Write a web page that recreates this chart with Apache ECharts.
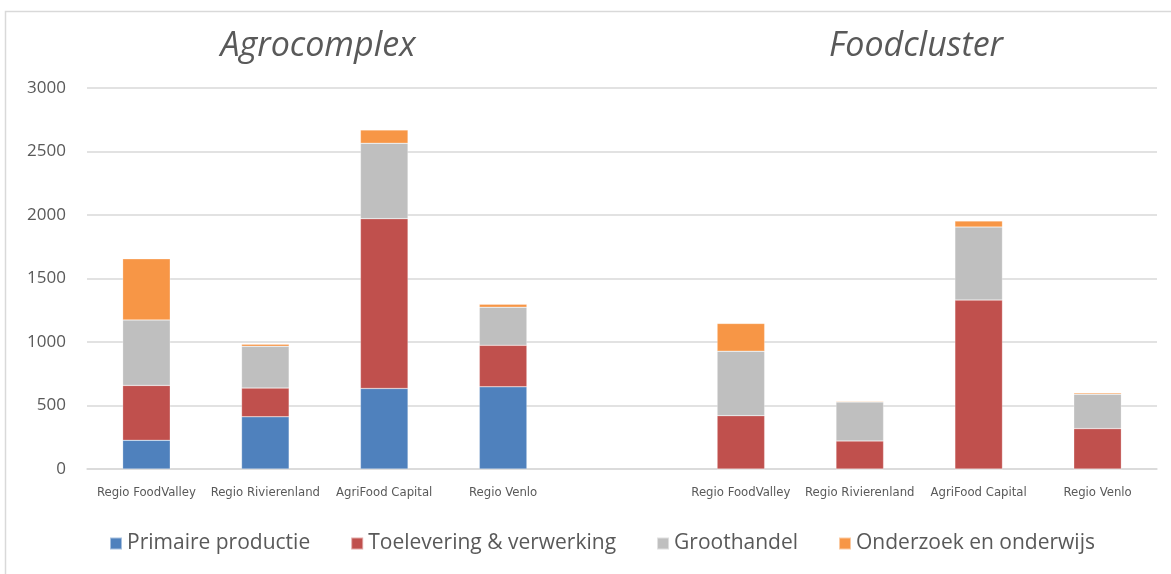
<!DOCTYPE html>
<html>
<head>
<meta charset="utf-8">
<script src="https://cdn.jsdelivr.net/npm/echarts@6/dist/echarts.min.js"></script>
<style>
html, body { margin: 0; padding: 0; background: #fff; }
#chart { width: 1171px; height: 574px; }
</style>
</head>
<body>
<div id="chart"></div>
<script>
// two groups of regions, with an empty slot in between
var categories = ['Regio FoodValley', 'Regio Rivierenland', 'AgriFood Capital', 'Regio Venlo', '',
    'Regio FoodValley', 'Regio Rivierenland', 'AgriFood Capital', 'Regio Venlo'];
var seriesNames = ['Primaire productie', 'Toelevering & verwerking', 'Groothandel', 'Onderzoek en onderwijs'];
var primaire = [226, 411, 634, 647, null, 0, 0, 0, 0];
var toelevering = [432, 226, 1337, 327, null, 420, 221, 1330, 318];
var groothandel = [516, 329, 594, 300, null, 508, 307, 575, 271];
var onderzoek = [481, 16, 105, 23, null, 218, 6, 48, 10];
var groupTitles = ['Agrocomplex', 'Foodcluster'];
var yTicks = [0, 500, 1000, 1500, 2000, 2500, 3000];

var colors = ['#4F81BD', '#C0504D', '#BFBFBF', '#F79646'];
var values = [primaire, toelevering, groothandel, onderzoek];

var myChart = echarts.init(document.getElementById('chart'));

var series = seriesNames.map(function (name, i) {
    return {
        name: name,
        type: 'bar',
        stack: 'total',
        barWidth: '40%',
        itemStyle: { color: colors[i], borderColor: 'rgba(255,255,255,0.5)', borderWidth: 0.5 },
        data: values[i]
    };
});

var option = {
    animation: false,
    color: colors,
    graphic: [
        {
            type: 'rect',
            shape: { x: 5.5, y: 11.5, width: 1200, height: 600 },
            style: { fill: 'none', stroke: '#D9D9D9', lineWidth: 1.5 },
            silent: true
        },
        {
            type: 'text', x: 318, y: 46,
            style: { text: groupTitles[0], font: 'italic 34px "Open Sans"', fill: '#595959', textAlign: 'center', textVerticalAlign: 'middle' }
        },
        {
            type: 'text', x: 916, y: 46,
            style: { text: groupTitles[1], font: 'italic 34px "Open Sans"', fill: '#595959', textAlign: 'center', textVerticalAlign: 'middle' }
        }
    ],
    grid: {
        left: 87,
        right: 14,
        top: 88,
        bottom: 105,
        containLabel: false
    },
    legend: {
        data: seriesNames,
        left: 104,
        top: 528,
        icon: 'rect',
        itemWidth: 12,
        itemHeight: 12,
        itemGap: 40,
        textStyle: { fontFamily: 'Open Sans', fontSize: 21, color: '#595959' }
    },
    xAxis: {
        type: 'category',
        data: categories,
        axisLine: { lineStyle: { color: '#D9D9D9', width: 1.5 } },
        axisTick: { show: false },
        axisLabel: {
            interval: 0,
            margin: 17,
            color: '#595959',
            fontSize: 13,
            fontFamily: '"Liberation Sans Narrow", "DejaVu Sans Condensed", sans-serif'
        }
    },
    yAxis: {
        type: 'value',
        min: yTicks[0],
        max: yTicks[yTicks.length - 1],
        interval: yTicks[1] - yTicks[0],
        axisLine: { show: false },
        axisTick: { show: false },
        splitLine: { lineStyle: { color: '#D9D9D9', width: 1.5 } },
        axisLabel: {
            margin: 21,
            color: '#595959',
            fontSize: 17,
            fontFamily: 'Open Sans',
            formatter: function (v) { return String(v); }
        }
    },
    series: series
};

myChart.setOption(option);
</script>
</body>
</html>
